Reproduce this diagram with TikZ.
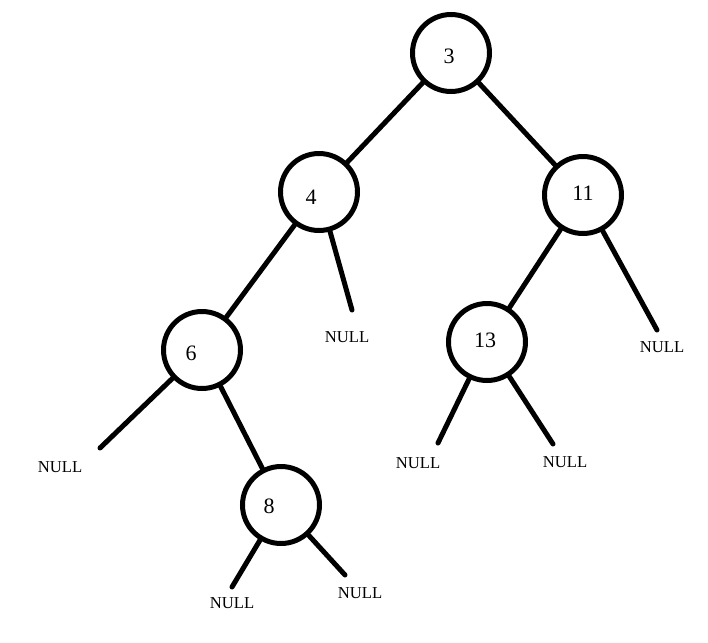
\documentclass[tikz,border=0pt]{standalone}
\usepackage{fontspec}
\setmainfont{Liberation Serif}

\begin{document}
\begin{tikzpicture}[x=0.75pt,y=-0.75pt,line cap=round,
  vertex/.style={circle,draw,line width=3.75pt,minimum size=57.75pt,inner sep=0pt},
  key/.style={font=\fontsize{16.5}{18}\selectfont},
  nulltext/.style={font=\fontsize{12.5}{14}\selectfont},
  branch/.style={line width=3.75pt}]
  \useasboundingbox (0,0) rectangle (708,643);
  \node[vertex] (n3) at (451,53) {}; \node[vertex] (n4) at (319,192) {}; \node[vertex] (n11) at (583,195) {};
  \node[vertex] (n6) at (202,350) {}; \node[vertex] (n13) at (487,342) {}; \node[vertex] (n8) at (281,505) {};
  \node[key] (k3) at (449,56) {3}; \node[key] (k4) at (311,197) {4}; \node[key] (k11) at (583,193) {11};
  \node[key] (k6) at (191,353) {6}; \node[key] (k13) at (485,340) {13}; \node[key] (k8) at (269,506) {8};
  \coordinate (e4) at (352,310); \coordinate (e11) at (657,330); \coordinate (e6) at (100,448);
  \coordinate (e13a) at (438,443); \coordinate (e13b) at (553,444); \coordinate (e8a) at (232,587); \coordinate (e8b) at (345,575);
  \draw[branch] (n3)--(n4); \draw[branch] (n3)--(n11); \draw[branch] (n4)--(n6); \draw[branch] (n11)--(n13); \draw[branch] (n6)--(n8);
  \draw[branch] (n4)--(e4); \draw[branch] (n11)--(e11); \draw[branch] (n6)--(e6);
  \draw[branch] (n13)--(e13a); \draw[branch] (n13)--(e13b); \draw[branch] (n8)--(e8a); \draw[branch] (n8)--(e8b);
  \node[nulltext] (z4) at (347,337) {NULL}; \node[nulltext] (z11) at (662,347) {NULL}; \node[nulltext] (z6) at (60,467) {NULL};
  \node[nulltext] (z13a) at (418,463) {NULL}; \node[nulltext] (z13b) at (565,462) {NULL};
  \node[nulltext] (z8a) at (232,603) {NULL}; \node[nulltext] (z8b) at (360,593) {NULL};
\end{tikzpicture}
\end{document}
